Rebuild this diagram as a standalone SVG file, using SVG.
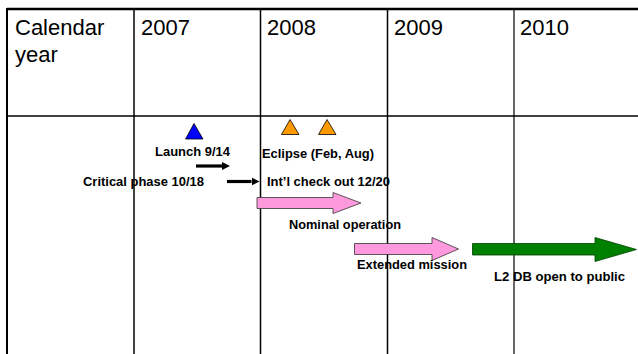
<svg xmlns="http://www.w3.org/2000/svg" width="638" height="354" viewBox="0 0 638 354">
<style>
.grid{stroke:#000;fill:none}
.hdr{font-family:"Liberation Sans",Arial,sans-serif;font-size:22px;fill:#000}
.lbl{font-family:"Liberation Sans",Arial,sans-serif;font-size:12px;font-weight:bold;fill:#000}
.tri-b{fill:#0000FF;stroke:#000;stroke-width:0.8}
.tri-o{fill:#FF9900;stroke:#000;stroke-width:0.8}
.pink{fill:#FF99DD;stroke:#333;stroke-width:0.8}
.green{fill:#008000;stroke:#004000;stroke-width:0.8}
.blk{stroke:#000;stroke-width:3.2;fill:none;marker-end:url(#ah)}
</style>
<defs>
<marker id="ah" viewBox="0 0 10 10" refX="0" refY="5" markerWidth="8" markerHeight="9" markerUnits="userSpaceOnUse" orient="auto">
<path d="M0,0 L10,5 L0,10 Z" fill="#000"/>
</marker>
</defs>
<rect width="638" height="354" fill="#fff"/>
<g id="grid">
<line class="grid" x1="7" y1="9" x2="638" y2="9" stroke-width="2.5"/>
<line class="grid" x1="7" y1="8" x2="7" y2="354" stroke-width="2"/>
<line class="grid" x1="7" y1="116" x2="638" y2="116" stroke-width="1.5"/>
<line class="grid" x1="134" y1="9" x2="134" y2="354" stroke-width="1.5"/>
<line class="grid" x1="260.5" y1="9" x2="260.5" y2="354" stroke-width="1.5"/>
<line class="grid" x1="387.5" y1="9" x2="387.5" y2="354" stroke-width="1.5"/>
<line class="grid" x1="514" y1="9" x2="514" y2="354" stroke-width="1.2"/>
</g>
<g id="headers">
<text class="hdr" x="15" y="35">Calendar</text>
<text class="hdr" x="15" y="62">year</text>
<text class="hdr" x="141" y="35">2007</text>
<text class="hdr" x="267" y="35">2008</text>
<text class="hdr" x="394" y="35">2009</text>
<text class="hdr" x="520" y="35">2010</text>
</g>
<g id="launch">
<polygon class="tri-b" points="194,123.5 185.5,139 203,139"/>
<text class="lbl" x="155" y="155.5" textLength="75" lengthAdjust="spacingAndGlyphs">Launch 9/14</text>
</g>
<g id="critical-phase">
<text class="lbl" x="83" y="186" textLength="121" lengthAdjust="spacingAndGlyphs">Critical phase 10/18</text>
</g>
<g id="eclipse">
<polygon class="tri-o" points="290,119.5 281.5,134.5 299,134.5"/>
<polygon class="tri-o" points="327,119.5 318.5,134.5 336,134.5"/>
<text class="lbl" x="262" y="157.5" textLength="112" lengthAdjust="spacingAndGlyphs">Eclipse (Feb, Aug)</text>
</g>
<g id="intl-checkout">
<text class="lbl" x="267" y="186" textLength="123" lengthAdjust="spacingAndGlyphs">Int’l check out 12/20</text>
</g>
<g id="nominal-operation">
<polygon class="pink" points="257,197.5 333,197.5 333,192.5 361,203 333,213.5 333,208.5 257,208.5"/>
<text class="lbl" x="289" y="229" textLength="112" lengthAdjust="spacingAndGlyphs">Nominal operation</text>
</g>
<g id="extended-mission">
<polygon class="pink" points="354.5,243.5 432,243.5 432,237.5 458.5,249 432,260.5 432,254.5 354.5,254.5"/>
<text class="lbl" x="357" y="268.5" textLength="110" lengthAdjust="spacingAndGlyphs">Extended mission</text>
</g>
<g id="l2-db">
<polygon class="green" points="472.5,243.5 595,243.5 595,237.5 636.5,249.5 595,261.5 595,255 472.5,255"/>
<text class="lbl" x="494" y="281" textLength="131" lengthAdjust="spacingAndGlyphs">L2 DB open to public</text>
</g>
<g id="connectors">
<line class="blk" x1="196" y1="166" x2="222" y2="166"/>
<line class="blk" x1="227" y1="181.5" x2="251.5" y2="181.5"/>
</g>
</svg>
